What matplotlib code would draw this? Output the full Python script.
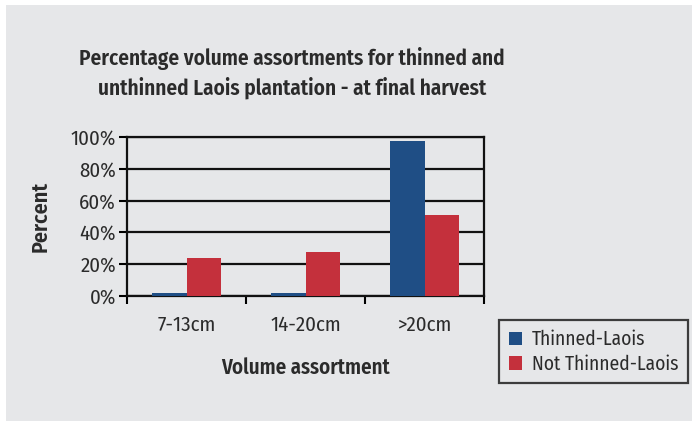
import numpy as np
import matplotlib.pyplot as plt
from matplotlib.patches import Rectangle

categories = ['7-13cm', '14-20cm', '>20cm']
thinned = [1.9, 1.9, 97.3]
not_thinned = [23.8, 27.6, 50.8]
yticks = [0, 20, 40, 60, 80, 100]
ytick_labels = ['0%', '20%', '40%', '60%', '80%', '100%']

W, H = 693, 422
bg = '#e6e7e9'
blue = '#1f4e85'
red = '#c4303c'
txt = '#2b2b2b'
font = ['Fira Sans Condensed', 'DejaVu Sans']

fig = plt.figure(figsize=(W / 100, H / 100), dpi=100)
fig.patch.set_facecolor('white')
fig.patches.append(Rectangle((6 / W, 1 / H), 686 / W, 416 / H, transform=fig.transFigure,
                             facecolor=bg, edgecolor='none', zorder=-10))

ax = fig.add_axes([127 / W, 1 - 296 / H, 357 / W, 159 / H])
ax.set_facecolor(bg)

x = np.arange(len(categories))
bw = 0.286
ax.bar(x - bw / 2, thinned, bw, color=blue, label='Thinned-Laois', zorder=3)
ax.bar(x + bw / 2, not_thinned, bw, color=red, label='Not Thinned-Laois', zorder=3)

ax.set_xlim(-0.5, len(categories) - 0.5)
ax.set_ylim(0, 100)
ax.set_yticks(yticks)
ax.set_yticklabels(ytick_labels, family=font, fontsize=15, color=txt)
ax.yaxis.grid(True, color='#111111', linewidth=1.6, zorder=1)
ax.set_xticks(x)
ax.set_xticklabels(categories, family=font, fontsize=15, color=txt)
ax.set_xticks(np.arange(len(categories) + 1) - 0.5, minor=True)
ax.tick_params(axis='x', which='major', length=0, pad=14)
ax.tick_params(axis='x', which='minor', length=6, width=1.5, direction='out')
ax.tick_params(axis='y', length=6, width=1.5, direction='out', pad=2)
for s in ax.spines.values():
    s.set_color('#111111')
    s.set_linewidth(1.6)

ax.set_ylabel('Percent', family=font, fontsize=16, fontweight='semibold', color=txt, labelpad=14)
ax.set_xlabel('Volume assortment', family=font, fontsize=15, fontweight='semibold', color=txt, labelpad=16)

fig.text(292 / W, 1 - 73 / H, 'Percentage volume assortments for thinned and\nunthinned Laois plantation - at final harvest',
         ha='center', va='center', family=font, fontsize=15.3, fontweight='semibold', color=txt,
         linespacing=1.4)

leg = fig.legend(loc='upper left', bbox_to_anchor=(499 / W, 1 - 320 / H), frameon=True,
                 prop={'family': font, 'size': 14}, handlelength=0.7, handleheight=0.7,
                 handletextpad=0.5, borderpad=0.5, labelspacing=0.25, borderaxespad=0,
                 fancybox=False)
leg.get_frame().set_edgecolor('#111111')
leg.get_frame().set_linewidth(1.6)
leg.get_frame().set_facecolor(bg)
for t in leg.get_texts():
    t.set_color(txt)

fig.savefig('out.png', dpi=100, facecolor='white')
